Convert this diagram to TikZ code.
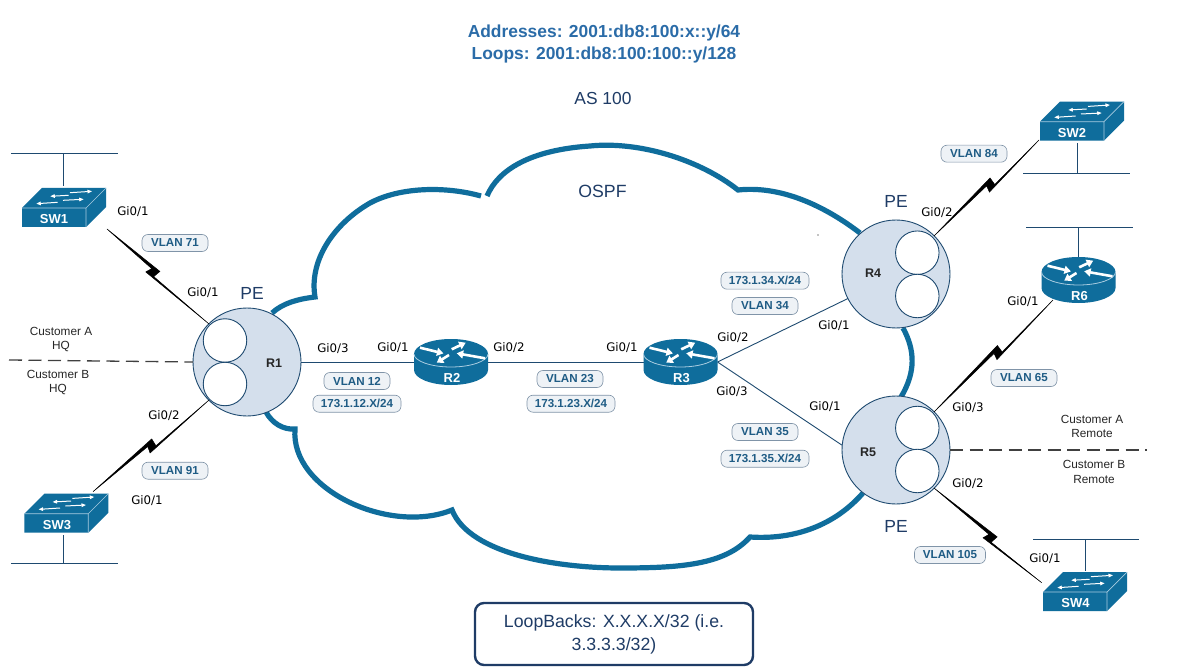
\documentclass[tikz,border=0pt]{standalone}
\usepackage{fontspec}
\setmainfont{Liberation Sans}
\newfontfamily\gifont{DejaVu Sans}
\usetikzlibrary{calc,arrows.meta}
\definecolor{ciscoblue}{HTML}{0F6D9C}
\definecolor{rimblue}{HTML}{A8CCE0}
\definecolor{navy}{HTML}{1E4A70}
\definecolor{textnavy}{HTML}{1F3C66}
\definecolor{titleblue}{HTML}{2B6CA8}
\definecolor{pefill}{HTML}{D4DFEC}
\definecolor{pillfill}{HTML}{EEF2F6}
\definecolor{pillline}{HTML}{8094A8}
\definecolor{pilltext}{HTML}{1F5C85}
\newcommand{\fsz}[1]{\fontsize{#1}{#1}\selectfont}
\tikzset{
  x=1pt,y=-1pt,
  pill/.style={draw=pillline,fill=pillfill,rounded corners=6pt,line width=.6pt,minimum height=17pt,inner sep=0pt,
     text=pilltext,font=\fsz{11.6}\bfseries},
  gi/.style={font=\gifont\fsz{11.8},text=black,inner sep=0pt},
  cust/.style={font=\fsz{11.8},text=black!85,inner sep=0pt},
  pe/.style={font=\fsz{17.5},text=textnavy,inner sep=0pt},
  plbl/.style={font=\fsz{12.5}\bfseries,text=black!85,inner sep=0pt},
  wlbl/.style={font=\fsz{13}\bfseries,text=white,inner sep=0pt},
  pecircle/.style={circle,draw=navy,fill=pefill,line width=.9pt,minimum size=108pt,inner sep=0pt,outer sep=0pt},
  vrf/.style={circle,draw=navy,fill=white,line width=.9pt,minimum size=43.5pt,inner sep=0pt,outer sep=0pt},
  routerbox/.style={rectangle,minimum width=74pt,minimum height=46pt,inner sep=0pt,outer sep=0pt},
  switchbox/.style={rectangle,minimum width=84pt,minimum height=39pt,inner sep=0pt,outer sep=0pt},
  link/.style={draw=navy,line width=.9pt},
  stub/.style={draw=navy,line width=1pt},
  dashlink/.style={draw=black!75,line width=1.3pt,dash pattern=on 13pt off 6.5pt},
  cloudline/.style={draw=ciscoblue,line width=5.2pt,miter limit=10,line join=miter},
  rarrow/.style={draw=white,line width=2.6pt,-{Triangle[length=6.5pt,width=8pt,fill=white]}},
  sarrow/.style={draw=white,line width=1pt,-{Triangle[length=4.5pt,width=3.6pt,fill=white]}},
}
% #1 x, #2 y of the box centre
\newcommand{\routerart}[2]{%
 \begin{scope}[shift={(#1,#2)}]
  \fill[ciscoblue] (-37,-8) -- (-37,8) .. controls (-37,16.3) and (-20.4,23) .. (0,23) .. controls (20.4,23) and (37,16.3) .. (37,8) -- (37,-8) .. controls (37,-16.3) and (20.4,-23) .. (0,-23) .. controls (-20.4,-23) and (-37,-16.3) .. (-37,-8) -- cycle;
  \draw[rimblue,line width=.8pt] (-37,-8) .. controls (-37,-1) and (-20.4,5) .. (0,5) .. controls (20.4,5) and (37,-1) .. (37,-8);
  \draw[rarrow] (-31,-14.3) -- (-7.6,-8.6);
  \draw[rarrow] (0.7,-12.7) -- (14.7,-19.3);
  \draw[rarrow] (34,-3.7) -- (5.7,-8.7);
  \draw[rarrow] (-2,-7) -- (-14.3,0.7);
 \end{scope}}
% #1 x, #2 y of top-left corner of front face
\newcommand{\switchart}[2]{%
 \begin{scope}[shift={(#1,#2)}]
  \fill[ciscoblue] (0,0) -- (20,-20) -- (84,-20) -- (84,-1) -- (64,19) -- (0,19) -- cycle;
  \draw[rimblue,line width=.7pt] (0,0) -- (64,0) -- (84,-20) (64,0) -- (64,19);
  \draw[sarrow] (48,-15.3) -- (70,-16.7);
  \draw[sarrow] (46.7,-12.7) -- (28.3,-11.7);
  \draw[sarrow] (41,-7.7) -- (61.7,-8.7);
  \draw[sarrow] (35.7,-5.7) -- (14.3,-4.3);
 \end{scope}}
% #1 from, #2 to, #3 fraction where the bolt breaks
\newcommand{\boltlink}[3]{%
  \coordinate (bm) at ($(#1)!#3!(#2)$);
  \coordinate (bf) at ($(bm)!5pt!(#2)$);
  \coordinate (bg) at ($(bm)!4pt!(#2)$);
  \coordinate (bb) at ($(bm)!-5pt!(#2)$);
  \coordinate (bc) at ($(bm)!-2.8pt!(#2)$);
  \coordinate (tipa) at ($(bf)!5pt!90:(#2)$);
  \coordinate (tipb) at ($(bg)!3pt!-90:(#2)$);
  \coordinate (tipc) at ($(bb)!5pt!-90:(#2)$);
  \coordinate (tipd) at ($(bc)!1.5pt!90:(#2)$);
  \filldraw[black,line width=.5pt,line join=miter] (#1) -- (tipa) -- (tipb) -- (#2) -- (tipc) -- (tipd) -- cycle;}
\begin{document}
\begin{tikzpicture}
\useasboundingbox (0,0) rectangle (1200,671);
\fill[white] (0,0) rectangle (1200,671);

% cloud
\draw[cloudline] (266,412) .. controls (272,423) and (283,430) .. (295,429)
  .. controls (290,490) and (390,535) .. (452,510)
  .. controls (470,555) and (560,568) .. (620,568)
  .. controls (680,568) and (725,565) .. (750,537)
  .. controls (795,540) and (835,525) .. (863,493);
\draw[cloudline] (272,313) .. controls (283,303) and (298,299) .. (315,297)
  .. controls (309,262) and (332,225) .. (370,203)
  .. controls (400,187) and (445,186) .. (481,196);
\draw[cloudline] (487,196) .. controls (498,170) and (530,150) .. (590,146)
  .. controls (640,141) and (700,160) .. (738,190)
  .. controls (785,185) and (830,210) .. (860,233);
\draw[cloudline] (903,328) .. controls (915,350) and (916,372) .. (901,397);

% nodes (devices)
\node[pecircle] (R1) at (247,362) {};
\node[pecircle] (R4) at (896,274) {};
\node[pecircle] (R5) at (896,450) {};
\node[routerbox] (R2) at (451,362) {};
\node[routerbox] (R3) at (680.5,362) {};
\node[routerbox] (R6) at (1078.5,280) {};
\node[switchbox] (SW1) at (64,207.5) {};
\node[switchbox] (SW2) at (1082,121) {};
\node[switchbox] (SW3) at (66.5,513) {};
\node[switchbox] (SW4) at (1085,592) {};

% named free ends
\coordinate (sw1e) at (107,229);
\coordinate (sw2e) at (1039,140);
\coordinate (sw3e) at (93,491.7);
\coordinate (sw4e) at (1041.7,582.7);
\coordinate (r6e) at (1053,300);
\coordinate (sw1v) at (63.5,154);\coordinate (sw1l) at (11,154);\coordinate (sw1r) at (118,154);\coordinate (sw1d) at (63.5,186);
\coordinate (sw3v) at (63.5,563);\coordinate (sw3l) at (11,563);\coordinate (sw3r) at (118,563);\coordinate (sw3d) at (63.5,535);
\coordinate (sw2v) at (1077.7,174);\coordinate (sw2l) at (1023,174);\coordinate (sw2r) at (1130,174);\coordinate (sw2d) at (1077.7,143);
\coordinate (r6v) at (1078.5,228);\coordinate (r6l) at (1026,228);\coordinate (r6r) at (1133,228);
\coordinate (sw4v) at (1085,539);\coordinate (sw4l) at (1033,539);\coordinate (sw4r) at (1139,539);\coordinate (sw4d) at (1085,571);
\coordinate (dashl) at (9,360);
\coordinate (dashr) at (1147,450);

% links
\draw[link] (R1.east) -- (R2.west);
\draw[link] (R2.east) -- (R3.west);
\draw[link] (R3.east) -- (R4.207);
\draw[link] (R3.east) -- (R5.175);
\draw[dashlink] (dashl) -- (R1.west);
\draw[dashlink] (R5.east) -- (dashr);
\boltlink{sw1e}{R1.135}{.45}
\boltlink{sw3e}{R1.225}{.5}
\boltlink{R4.45}{sw2e}{.53}
\boltlink{R5.45}{r6e}{.53}
\boltlink{R5.315}{sw4e}{.52}

% stubs
\draw[stub] (sw1l) -- (sw1r) (sw1v) -- (sw1d);
\draw[stub] (sw3l) -- (sw3r) (sw3v) -- (sw3d);
\draw[stub] (sw2l) -- (sw2r) (sw2v) -- (sw2d);
\draw[stub] (r6l) -- (r6r) (r6v) -- (R6.north);
\draw[stub] (sw4l) -- (sw4r) (sw4v) -- (sw4d);

% device art
\routerart{451}{362}
\routerart{680.5}{362}
\routerart{1078.5}{280}
\switchart{22}{208}
\switchart{24.3}{513.7}
\switchart{1040}{121.7}
\switchart{1043}{592}
\node[wlbl] (lR2) at (452,377.7) {R2};
\node[wlbl] (lR3) at (681.5,377.7) {R3};
\node[wlbl] (lR6) at (1079.5,295.7) {R6};
\node[wlbl] (lSW1) at (54,219) {SW1};
\node[wlbl] (lSW3) at (57,525) {SW3};
\node[wlbl] (lSW2) at (1072,133) {SW2};
\node[wlbl] (lSW4) at (1075.5,603.5) {SW4};

% PE inner circles
\node[vrf] (v1a) at (225,340.5) {};
\node[vrf] (v1b) at (225,384) {};
\node[vrf] (v4a) at (917.3,252.7) {};
\node[vrf] (v4b) at (917.3,296) {};
\node[vrf] (v5a) at (917.3,428) {};
\node[vrf] (v5b) at (917.3,471) {};
\node[plbl] (lR1) at (274,363) {R1};
\node[plbl] (lR4) at (873,273) {R4};
\node[plbl] (lR5) at (868,452) {R5};
\node[pe] (pe1) at (252,293) {PE};
\node[pe] (pe4) at (896,201) {PE};
\node[pe] (pe5) at (896,526) {PE};

% titles
\node[font=\fsz{17.4}\bfseries,text=titleblue,inner sep=0pt] (t1) at (604,33) {Addresses: 2001:db8:100:x::y/64};
\node[font=\fsz{17.4}\bfseries,text=titleblue,inner sep=0pt] (t2) at (604,55) {Loops: 2001:db8:100:100::y/128};
\node[font=\fsz{17.4},text=textnavy,inner sep=0pt] (as) at (603,99) {AS 100};
\node[font=\fsz{17.7},text=textnavy,inner sep=0pt] (ospf) at (602.5,191) {OSPF};
\fill[black] (818,235) circle (.7);

% pills
\node[pill,minimum width=66pt] (p71) at (175,243) {VLAN 71};
\node[pill,minimum width=66pt] (p91) at (175,470.7) {VLAN 91};
\node[pill,minimum width=66pt] (p12) at (357,381) {VLAN 12};
\node[pill,minimum width=88pt] (a12) at (357,403.7) {173.1.12.X/24};
\node[pill,minimum width=66pt] (p23) at (570,379) {VLAN 23};
\node[pill,minimum width=88pt] (a23) at (571,403.7) {173.1.23.X/24};
\node[pill,minimum width=88pt] (a34) at (765,280.7) {173.1.34.X/24};
\node[pill,minimum width=66pt] (p34) at (765,306) {VLAN 34};
\node[pill,minimum width=66pt] (p35) at (765,432) {VLAN 35};
\node[pill,minimum width=88pt] (a35) at (765,458.7) {173.1.35.X/24};
\node[pill,minimum width=66pt] (p84) at (974,153.7) {VLAN 84};
\node[pill,minimum width=66pt] (p65) at (1024,378) {VLAN 65};
\node[pill,minimum width=71pt] (p105) at (950,555) {VLAN 105};

% interface labels
\node[gi] (g1) at (133,212) {Gi0/1};
\node[gi] (g2) at (203,293) {Gi0/1};
\node[gi] (g3) at (164,416) {Gi0/2};
\node[gi] (g4) at (147,501) {Gi0/1};
\node[gi] (g5) at (333,349) {Gi0/3};
\node[gi] (g6) at (393,348) {Gi0/1};
\node[gi] (g7) at (509,348) {Gi0/2};
\node[gi] (g8) at (622,348) {Gi0/1};
\node[gi] (g9) at (733,338) {Gi0/2};
\node[gi] (g10) at (834,326) {Gi0/1};
\node[gi] (g11) at (732,392) {Gi0/3};
\node[gi] (g12) at (825,407) {Gi0/1};
\node[gi] (g13) at (937,213) {Gi0/2};
\node[gi] (g14) at (1023,302) {Gi0/1};
\node[gi] (g15) at (968,408) {Gi0/3};
\node[gi] (g16) at (968,484) {Gi0/2};
\node[gi] (g17) at (1045,559) {Gi0/1};

% customers
\node[cust] (c1) at (61,331) {Customer A};
\node[cust] (c2) at (61,346) {HQ};
\node[cust] (c3) at (58,374) {Customer B};
\node[cust] (c4) at (58,389) {HQ};
\node[cust] (c5) at (1092,419) {Customer A};
\node[cust] (c6) at (1092,433) {Remote};
\node[cust] (c7) at (1094,464) {Customer B};
\node[cust] (c8) at (1094,479) {Remote};

% loopback box
\node[draw=textnavy,line width=2.4pt,rounded corners=9pt,minimum width=278pt,minimum height=62pt,inner sep=0pt,
  align=center,text=textnavy,font=\fontsize{17.7}{23}\selectfont] (lb) at (614,634)
  {LoopBacks: X.X.X.X/32 (i.e.\\3.3.3.3/32)};
\end{tikzpicture}
\end{document}
